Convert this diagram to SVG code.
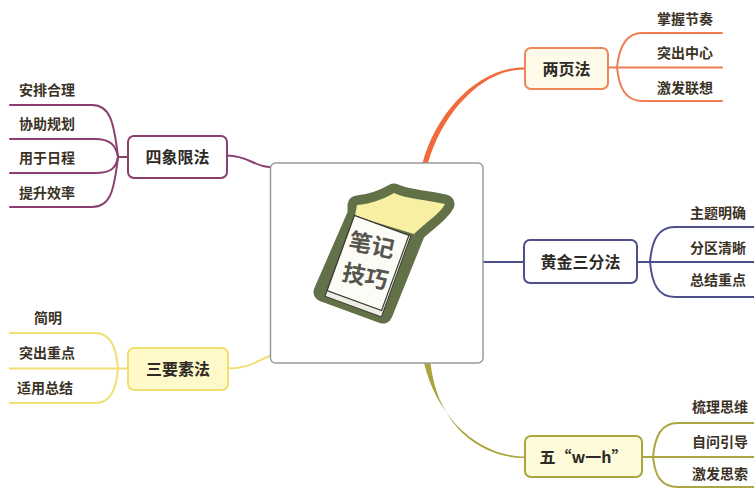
<svg xmlns="http://www.w3.org/2000/svg" width="754" height="489" viewBox="0 0 754 489">
  <style>
    .node-text { font-family: "Noto Sans CJK SC", "Noto Sans", sans-serif; font-size: 16px; font-weight: bold; fill: #2e2a26; text-anchor: middle; }
    .leaf { font-family: "Noto Sans CJK SC", "Noto Sans", sans-serif; font-size: 14px; font-weight: bold; fill: #3b3226; text-anchor: middle; }
    .branch { fill: none; stroke-width: 2; stroke-linecap: round; }
    .orange { stroke: #f07d52; }
    .purple { stroke: #8a3f6e; }
    .navy { stroke: #4d4f8a; }
    .yellow { stroke: #f2df72; }
    .olive { stroke: #aba640; }
    .box { stroke-width: 2; }
    .pen { font-family: "Noto Sans CJK SC", sans-serif; font-size: 23px; font-weight: bold; fill: #55554d; text-anchor: middle; }
  </style>

  <rect width="754" height="489" fill="#ffffff"/>

  <!-- connectors -->
  <g id="connectors">
    <!-- main links from centre -->
    <path d="M422.5,163 C437,110 480,67 524,67.5 L524,69.5 C482,69.5 443,112 428,163 Z" fill="#f06a3c"/>
    <path d="M424,363 C438,420 480,456.5 525,456.5 L525,458 C478,458 437,423 430.5,363 Z" fill="#a9a53a"/>
    <path class="branch navy" d="M483,262 H524"/>
    <path class="branch purple" d="M227,155.5 C248,155.5 255,167 270,167"/>
    <path class="branch yellow" d="M228,368.5 C250,368.5 258,360 270,356"/>

    <!-- 两页法 leaves -->
    <path class="branch orange" d="M608,67.5 H617"/>
    <path class="branch orange" d="M617,67.5 C619,48 625,33 642,33 H722"/>
    <path class="branch orange" d="M617,67.5 H722"/>
    <path class="branch orange" d="M617,67.5 C619,87 625,101 642,101 H722"/>

    <!-- 四象限法 leaves -->
    <path class="branch purple" d="M128,157 H118"/>
    <path class="branch purple" d="M118,157 C114,122 110,105 92,105 H10"/>
    <path class="branch purple" d="M118,157 C116,145 110,139 95,139 H10"/>
    <path class="branch purple" d="M118,157 C116,169 110,173 95,173 H10"/>
    <path class="branch purple" d="M118,157 C114,192 110,207 92,207 H10"/>

    <!-- 黄金三分法 leaves -->
    <path class="branch navy" d="M637,262 H650"/>
    <path class="branch navy" d="M650,262 C652,240 658,227 675,227 H754"/>
    <path class="branch navy" d="M650,262 H754"/>
    <path class="branch navy" d="M650,262 C652,284 658,297 675,297 H754"/>

    <!-- 三要素法 leaves -->
    <path class="branch yellow" d="M128,368.5 H118"/>
    <path class="branch yellow" d="M118,368.5 C116,346 110,333 95,333 H10"/>
    <path class="branch yellow" d="M118,368.5 H10"/>
    <path class="branch yellow" d="M118,368.5 C116,391 110,403 95,403 H10"/>

    <!-- 五“w一h” leaves -->
    <path class="branch olive" d="M642,457 H653"/>
    <path class="branch olive" d="M653,457 C655,436 661,423 678,423 H754"/>
    <path class="branch olive" d="M653,457 H754"/>
    <path class="branch olive" d="M653,457 C655,476 661,487 678,487 H754"/>
  </g>

  <!-- central node with notebook sticker -->
  <g id="center">
    <rect x="270.5" y="163" width="212.5" height="200" rx="5" fill="#ffffff" stroke="#9a9a9a" stroke-width="1.5"/>
    <!-- dark green sticker outline -->
    <path d="M357,214 L357,205 C370,204 382,200 394,193 C406,199 428,200 445,204 C440,214 426,222 416,232 L383,314 L323,292 Z"
          fill="#627147" stroke="#627147" stroke-width="19" stroke-linejoin="round"/>
    <!-- yellow tab -->
    <path d="M355,216 L357,205 C370,204 382,200 394,193 C406,199 428,200 445,204 C440,214 426,222 414,234 Z" fill="#f7f0a2"/>
    <!-- notebook body -->
    <g transform="translate(368,263) rotate(20)">
      <rect x="-29" y="-40" width="60" height="86" fill="#eeeee6" stroke="#3a3a32" stroke-width="1"/>
      <rect x="-29" y="-40" width="58" height="80" fill="#fcfcf7" stroke="#3a3a32" stroke-width="1.2"/>
      <text class="pen" x="0" y="-10" transform="rotate(-8)">笔记</text>
      <text class="pen" x="0" y="22" transform="rotate(-8)">技巧</text>
    </g>
  </g>

  <g id="node-liangyefa">
    <rect class="box" x="525" y="48" width="83" height="41" rx="6" fill="#fffbea" stroke="#ef8558"/>
    <text class="node-text" x="566.5" y="74.5">两页法</text>
  </g>
  <g id="leaves-liangyefa">
    <text class="leaf" x="685" y="24">掌握节奏</text>
    <text class="leaf" x="685" y="58">突出中心</text>
    <text class="leaf" x="685" y="93">激发联想</text>
  </g>

  <g id="node-sixiangxian">
    <rect class="box" x="128" y="136" width="99" height="42" rx="6" fill="#ffffff" stroke="#8a3f6e"/>
    <text class="node-text" x="177.5" y="162.5">四象限法</text>
  </g>
  <g id="leaves-sixiangxian">
    <text class="leaf" x="47" y="95">安排合理</text>
    <text class="leaf" x="47" y="129">协助规划</text>
    <text class="leaf" x="47" y="163">用于日程</text>
    <text class="leaf" x="47" y="198">提升效率</text>
  </g>

  <g id="node-huangjin">
    <rect class="box" x="524" y="240" width="113" height="43" rx="6" fill="#ffffff" stroke="#4d4f8a"/>
    <text class="node-text" x="580.5" y="267.5">黄金三分法</text>
  </g>
  <g id="leaves-huangjin">
    <text class="leaf" x="718" y="218">主题明确</text>
    <text class="leaf" x="718" y="253">分区清晰</text>
    <text class="leaf" x="718" y="285">总结重点</text>
  </g>

  <g id="node-sanyaosu">
    <rect class="box" x="128" y="348" width="100" height="42" rx="6" fill="#fff8c8" stroke="#f2df72"/>
    <text class="node-text" x="178" y="374.5">三要素法</text>
  </g>
  <g id="leaves-sanyaosu">
    <text class="leaf" x="48" y="323">简明</text>
    <text class="leaf" x="47" y="358">突出重点</text>
    <text class="leaf" x="45" y="393">适用总结</text>
  </g>

  <g id="node-wuwh">
    <rect class="box" x="525" y="436" width="117" height="41" rx="6" fill="#fdfbd9" stroke="#aba640"/>
    <text class="node-text" x="583.5" y="462.5">五“w一h”</text>
  </g>
  <g id="leaves-wuwh">
    <text class="leaf" x="720" y="412">梳理思维</text>
    <text class="leaf" x="720" y="447">自问引导</text>
    <text class="leaf" x="720" y="479">激发思索</text>
  </g>
</svg>
